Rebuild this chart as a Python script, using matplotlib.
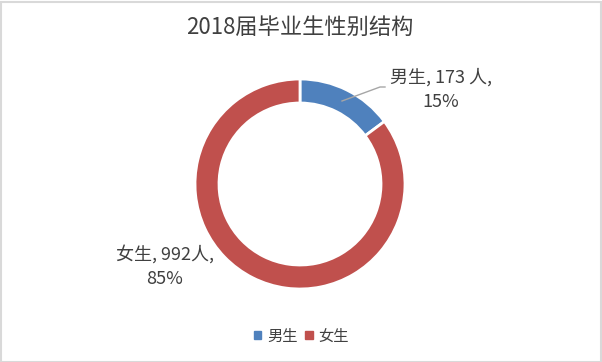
import matplotlib
matplotlib.use("Agg")
import matplotlib.pyplot as plt
from matplotlib.patches import Rectangle

plt.rcParams['font.family'] = ['Noto Sans CJK SC', 'DejaVu Sans']

categories = ['男生', '女生']
counts = [173, 992]
percents = ['15%', '85%']
colors = ['#4F81BD', '#C0504D']
title = '2018届毕业生性别结构'

W, H = 602, 362
fig = plt.figure(figsize=(W / 100, H / 100), dpi=100)
ax = fig.add_axes([0, 0, 1, 1])
ax.set_xlim(0, W)
ax.set_ylim(0, H)
ax.set_aspect('equal')
ax.axis('off')

cx, cy, r = 300, 362 - 184, 105
wedges, _ = ax.pie(counts, colors=colors, startangle=90, counterclock=False,
                   center=(cx, cy), radius=r, frame=True,
                   wedgeprops=dict(width=24, edgecolor='white', linewidth=2))
ax.set_xlim(0, W)
ax.set_ylim(0, H)
ax.axis('off')

txtc = '#404040'
ax.text(300, 362 - 27, title, ha='center', va='center', fontsize=16, color=txtc)

# labels
lab0 = f'{categories[0]}, {counts[0]} 人,\n{percents[0]}'
lab1 = f'{categories[1]}, {counts[1]}人,\n{percents[1]}'
ax.text(441, 362 - 89.5, lab0, ha='center', va='center', fontsize=13, color=txtc,
        linespacing=1.4)
ax.text(165, 362 - 266.5, lab1, ha='center', va='center', fontsize=13, color=txtc,
        linespacing=1.45)
ax.plot([342, 380, 385], [362 - 101, 362 - 87, 362 - 87], color='#A6A6A6', lw=1)

# legend
handles = [Rectangle((0, 0), 1, 1, color=c) for c in colors]
fig.legend(handles, categories, loc='center', bbox_to_anchor=(301.5 / W, 1 - 336 / H),
           ncol=2, frameon=False, fontsize=11, handlelength=0.5, handleheight=0.5,
           handletextpad=0.4, columnspacing=0.45, borderpad=0, labelcolor=txtc)

fig.patches.append(Rectangle((0.5 / W, 0.5 / H), 1 - 2 / W, 1 - 2 / H,
                             transform=fig.transFigure, fill=False,
                             edgecolor='#D9D9D9', lw=1.5))
fig.savefig('out.png', dpi=100)
